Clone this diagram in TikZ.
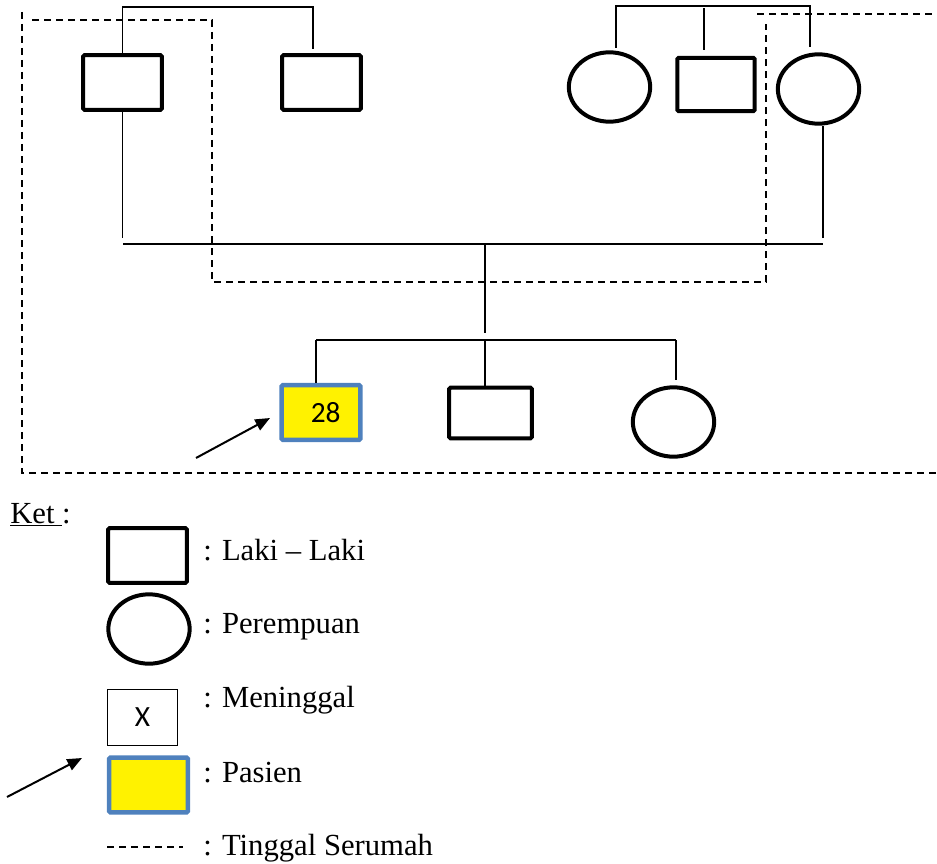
\documentclass[tikz,border=0pt]{standalone}
\usepackage{fontspec}
\setmainfont{Liberation Serif}
\newfontfamily\calibri{Carlito}
\usepackage{xcolor}
\usepackage{tikz}
\usetikzlibrary{arrows.meta,calc,positioning,shapes.geometric}
\definecolor{pblue}{RGB}{79,129,189}

\begin{document}
\begin{tikzpicture}[
  x=0.75pt, y=-0.75pt,
  male/.style={draw, line width=3pt, rounded corners=1pt, minimum width=59pt, minimum height=41pt, inner sep=0pt},
  female/.style={draw, ellipse, line width=3pt, minimum width=61pt, minimum height=52pt, inner sep=0pt},
  patient/.style={male, draw=pblue, line width=3.4pt, fill=yellow, font=\calibri\fontsize{22}{24}\selectfont},
  dead/.style={draw, line width=0.8pt, minimum width=52pt, minimum height=42pt, inner sep=0pt, font=\calibri\fontsize{22}{24}\selectfont},
  link/.style={line width=1.2pt},
  house/.style={line width=1.1pt, dash pattern=on 5pt off 4pt},
  arrow/.style={-{Triangle[length=11pt,width=9pt]}, line width=1.5pt},
  ket/.style={anchor=base west, inner sep=0pt},
  font=\fontsize{23}{27}\selectfont,
]
\useasboundingbox (0,0) rectangle (937,863);

% keluarga ayah
\node[male] (father) at (122.5,82.5) {};
\node[male] (uncle) at (321.5,82.5) {};
% keluarga ibu
\node[female] (aunt) at (609.5,87) {};
\node[male, minimum width=58pt, minimum height=40pt] (uncleM) at (716,84.5) {};
\node[female] (mother) at (818.5,89) {};
% anak
\node[patient] (pasien) at (321,412.5) {\raisebox{-3pt}{\hspace{7pt}28}};
\node[male, minimum width=62pt, minimum height=38pt] (brother) at (490.5,413) {};
\node[female] (sister) at (673.5,422) {};

\coordinate (uncleTop) at (313,49);
\coordinate (auntTop) at (616,48);
\coordinate (uncleMTop) at (704,50);
\coordinate (motherTop) at (810,47);
\coordinate (fatherLow) at (122.5,238);
\coordinate (motherLow) at (823,238);
\coordinate (marL) at (123,244);
\coordinate (marR) at (823,244);
\coordinate (marMid) at (485,244);
\coordinate (sibMid) at (485,333);
\coordinate (sibL) at (316,340);
\coordinate (sibR) at (676,340);
\coordinate (sisterTop) at (676,380);

\draw[link] (father.north) -- ++(0,-46) -| (uncleTop);
\draw[link] (auntTop) -- ++(0,-42) -| (motherTop);
\draw[link] (uncleMTop) -- ++(0,-42);
\draw[link] (father.south) -- (fatherLow);
\draw[link] (motherLow) -- ++(0,-112);
\draw[link] (marL) -- (marR);
\draw[link] (marMid) -- (sibMid);
\draw[link] (sibL) -- (sibR);
\draw[link] (sibL) -- (sibL |- pasien.north);
\draw[link] (sibMid |- sibL) -- (sibMid |- brother.north);
\draw[link] (sibR) -- (sisterTop);

% tinggal serumah
\draw[house] (22,12) -- (22,473) -- (937,473);
\draw[house] (32,20) -- (212,20) -- (212,282) -- (766,282) -- (766,24);
\draw[house] (757,14) -- (937,14);

\coordinate (arrTail) at (196,458);
\coordinate (arrHead) at (270,418);
\draw[arrow] (arrTail) -- (arrHead);

% keterangan
\node[ket] (ket) at (10,523) {\underline{Ket\ }:};
\node[male] (kLaki) at (147.5,555.5) {};
\node[female] (kPerempuan) at (149,629) {};
\node[dead] (kMeninggal) at (142.5,717.5) {X\hspace{10pt}};
\node[patient] (kPasien) at (148.5,785) {};
\coordinate (kDashL) at (107,847);
\coordinate (kDashR) at (183,847);
\draw[house] (kDashL) -- (kDashR);
\coordinate (kArrTail) at (7,797);
\coordinate (kArrHead) at (82,758);
\draw[arrow] (kArrTail) -- (kArrHead);

\node[ket] (tLaki) at (203,560) {: Laki -- Laki};
\node[ket] (tPerempuan) at (203,633) {: Perempuan};
\node[ket] (tMeninggal) at (203,707) {: Meninggal};
\node[ket] (tPasien) at (203,782) {: Pasien};
\node[ket] (tSerumah) at (203,855) {: Tinggal Serumah};
\end{tikzpicture}
\end{document}
